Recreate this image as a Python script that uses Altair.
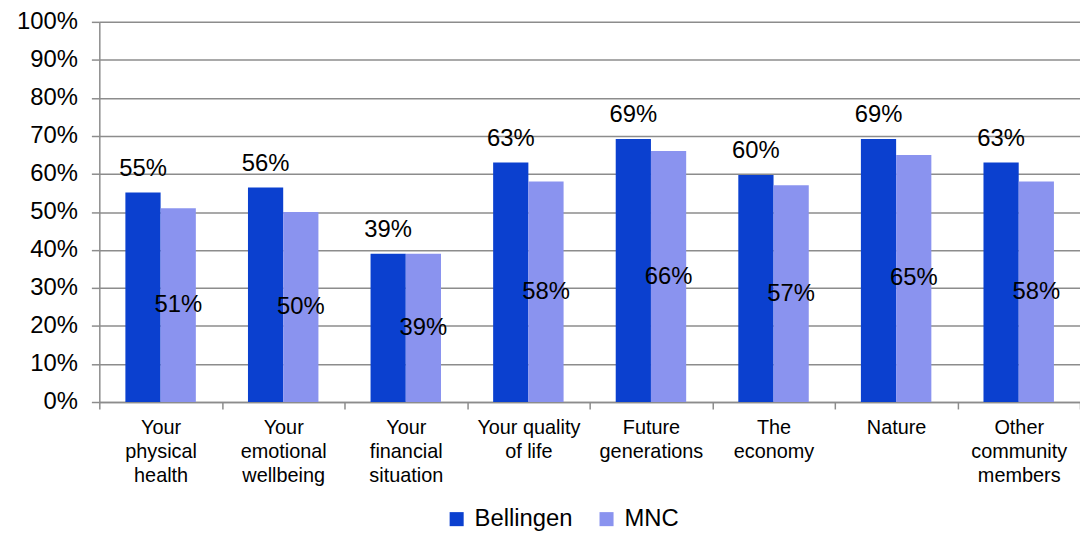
import altair as alt
import pandas as pd

categories = ["Your|physical|health", "Your|emotional|wellbeing", "Your|financial|situation",
              "Your quality|of life", "Future|generations", "The|economy", "Nature",
              "Other|community|members"]
bellingen = [55.1, 56.4, 39.0, 63.0, 69.2, 59.7, 69.2, 63.0]
mnc = [51.0, 50.0, 39.0, 58.0, 66.0, 57.0, 65.0, 58.0]
series = ["Bellingen", "MNC"]
colors = ["#0b40cf", "#8a93ef"]
y_ticks = [0, 10, 20, 30, 40, 50, 60, 70, 80, 90, 100]

rows = []
for c, b, m in zip(categories, bellingen, mnc):
    rows.append({"cat": c, "series": series[0], "value": b})
    rows.append({"cat": c, "series": series[1], "value": m})
df = pd.DataFrame(rows)

FONT = "Liberation Sans"

x_axis = alt.Axis(title=None, labelAngle=0, labelFontSize=20, labelLineHeight=24,
                  labelColor="#000000", labelFont=FONT,
                  labelExpr="isValid(datum.value) && datum.value != '' ? split(datum.value, '|') : ''",
                  labelBaseline="top", labelPadding=9, labelOverlap=False,
                  tickBand="extent", tickSize=7, tickColor="#8c8c8c", tickWidth=1.5,
                  domainColor="#8c8c8c", domainWidth=1.5, grid=False)
y_axis = alt.Axis(title=None, values=y_ticks, tickCount=len(y_ticks) + 1,
                  labelExpr="datum.value + '%'",
                  labelFontSize=24, labelColor="#000000", labelFont=FONT,
                  labelOverlap=False, labelFlush=False,
                  labelPadding=14, tickSize=8, tickColor="#8c8c8c", tickWidth=1.5,
                  domainColor="#8c8c8c", domainWidth=1.5,
                  grid=True, gridColor="#8c8c8c", gridWidth=1.5)

x_scale = alt.Scale(paddingInner=0, paddingOuter=0)
xoff = alt.XOffset("series:N", sort=series, scale=alt.Scale(paddingOuter=0.74, paddingInner=0))
y_scale = alt.Scale(domain=[0, 100], nice=False)

base = alt.Chart(df)

bars = base.mark_bar().encode(
    x=alt.X("cat:N", sort=categories, scale=x_scale, axis=x_axis),
    xOffset=xoff,
    y=alt.Y("value:Q", scale=y_scale, axis=y_axis),
    color=alt.Color("series:N", sort=series,
                    scale=alt.Scale(domain=series, range=colors),
                    legend=alt.Legend(title=None, orient="none", direction="horizontal",
                                      legendX=348, legendY=489,
                                      symbolType="square", symbolSize=200,
                                      symbolStrokeWidth=0, symbolOpacity=1,
                                      labelFontSize=24, labelFont=FONT, labelColor="#000000",
                                      columnPadding=22, labelOffset=6)),
)

top_labels = base.transform_filter(alt.datum.series == series[0]).transform_calculate(
    lab="format(datum.value, '.0f') + '%'"
).mark_text(fontSize=24, font=FONT, color="#000000", baseline="alphabetic", dy=-17).encode(
    x=alt.X("cat:N", sort=categories, scale=x_scale, axis=x_axis),
    xOffset=xoff,
    y=alt.Y("value:Q", scale=y_scale, axis=y_axis),
    text="lab:N",
)

mid_labels = base.transform_filter(alt.datum.series == series[1]).transform_calculate(
    lab="format(datum.value, '.0f') + '%'", mid="datum.value / 2"
).mark_text(fontSize=24, font=FONT, color="#000000", baseline="middle").encode(
    x=alt.X("cat:N", sort=categories, scale=x_scale, axis=x_axis),
    xOffset=xoff,
    y=alt.Y("mid:Q", scale=y_scale, axis=y_axis),
    text="lab:N",
)

chart = alt.layer(bars, top_labels, mid_labels).properties(
    width=988, height=383,
    autosize=alt.AutoSizeParams(type="none"),
    padding={"left": 92, "top": 12, "right": 0, "bottom": 129},
    background="#ffffff",
).configure_view(stroke=None)

chart.save("out.html", embed_options={"renderer": "svg", "actions": False})
